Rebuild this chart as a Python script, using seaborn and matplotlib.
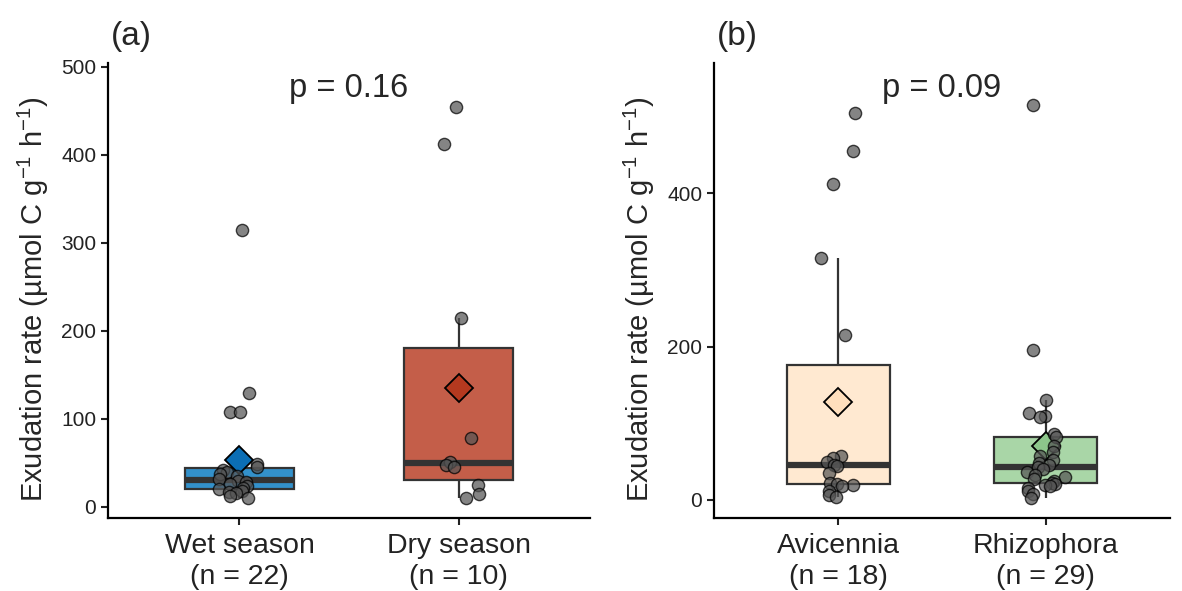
import matplotlib
matplotlib.use("Agg")
import matplotlib.pyplot as plt
import seaborn as sns
import pandas as pd
import numpy as np

# season comparison (panel a)
season_groups = ["Wet season", "Dry season"]
wet_values = [315, 130, 108, 108, 49, 45, 42, 40, 38, 35, 32, 30, 28, 26, 24,
              22, 20, 18, 17, 16, 13, 10]
dry_values = [455, 412, 215, 78, 51, 48, 46, 25, 15, 10]

# species comparison (panel b)
species_groups = ["Avicennia", "Rhizophora"]
avicennia_values = [505, 455, 412, 315, 215, 57, 55, 50, 46, 44, 35, 22, 21,
                    20, 18, 12, 7, 4]
rhizophora_values = [515, 195, 131, 113, 109, 108, 86, 82, 70, 63, 57, 52, 48,
                     45, 43, 40, 36, 33, 30, 27, 25, 22, 21, 20, 18, 15, 12, 8, 3]

p_labels = ["p = 0.16", "p = 0.09"]
panel_tags = ["(a)", "(b)"]

box_fill_a = ["#3391CB", "#C45E49"]
mean_fill_a = ["#0B6EB5", "#B5391F"]
box_fill_b = ["#FFE9D1", "#A9D6A7"]
mean_fill_b = ["#FFDFBD", "#8DC68B"]

sns.set_style("ticks")
plt.rcParams["font.family"] = ["Liberation Sans", "DejaVu Sans"]
plt.rcParams["mathtext.fontset"] = "custom"
plt.rcParams["mathtext.rm"] = "Liberation Sans"
plt.rcParams["mathtext.it"] = "Liberation Sans:italic"

np.random.seed(3)

ylabel = r"Exudation rate (µmol C g$^{-1}$ h$^{-1}$)"


def panel(ax, groups, values, box_cols, mean_cols, yticks, ylim, ptext):
    df = pd.DataFrame({
        "group": np.repeat(groups, [len(v) for v in values]),
        "rate": np.concatenate(values),
    })
    sns.boxplot(data=df, x="group", y="rate", hue="group", order=groups,
                hue_order=groups, palette=box_cols, legend=False, width=0.5,
                saturation=1, linecolor="#333333", linewidth=1.6,
                showfliers=False, showcaps=False,
                medianprops={"linewidth": 4.5}, ax=ax)
    sns.stripplot(data=df, x="group", y="rate", order=groups, color="#555555",
                  alpha=0.72, size=8.8, jitter=0.1, edgecolor="black",
                  linewidth=1, ax=ax)
    sns.pointplot(data=df, x="group", y="rate", hue="group", order=groups,
                  hue_order=groups, palette=mean_cols, estimator="mean",
                  errorbar=None, markers="D", linestyles="none", markersize=14,
                  markeredgecolor="black", markeredgewidth=1.3, legend=False,
                  ax=ax)
    ax.set_xlim(-0.6, 1.6)
    ax.set_ylim(*ylim)
    ax.set_yticks(yticks)
    ax.set_xticks(range(len(groups)))
    ax.set_xticklabels([f"{g}\n(n = {len(v)})" for g, v in zip(groups, values)],
                       fontsize=20.5, color="#222222", linespacing=1.25)
    ax.tick_params(axis="x", pad=6)
    ax.tick_params(axis="y", labelsize=15, labelcolor="#222222")
    ax.tick_params(width=1.5, length=5, color="#222222")
    ax.set_xlabel("")
    ax.set_ylabel(ylabel, fontsize=21, labelpad=7)
    ax.yaxis.label.set_y(0.48)
    for s in ["left", "bottom"]:
        ax.spines[s].set_linewidth(1.6)
        ax.spines[s].set_color("black")
    sns.despine(ax=ax)
    ax.text(0.5, 0.945, ptext, transform=ax.transAxes, ha="center",
            va="center", fontsize=23.5)


fig = plt.figure(figsize=(11.82, 5.91), dpi=100)
ax_a = fig.add_axes([108 / 1182, 1 - 518 / 591, (590 - 108) / 1182, (518 - 63) / 591])
ax_b = fig.add_axes([714 / 1182, 1 - 518 / 591, (1170 - 714) / 1182, (518 - 63) / 591])

panel(ax_a, season_groups, [wet_values, dry_values], box_fill_a, mean_fill_a,
      [0, 100, 200, 300, 400, 500], (-12.5, 504.5), p_labels[0])
panel(ax_b, species_groups, [avicennia_values, rhizophora_values], box_fill_b,
      mean_fill_b, [0, 200, 400], (-23.5, 570), p_labels[1])

fig.text(111 / 1182, 1 - 36 / 591, panel_tags[0], ha="left", va="center", fontsize=24)
fig.text(717 / 1182, 1 - 36 / 591, panel_tags[1], ha="left", va="center", fontsize=24)

fig.savefig("out.png", dpi=100)
